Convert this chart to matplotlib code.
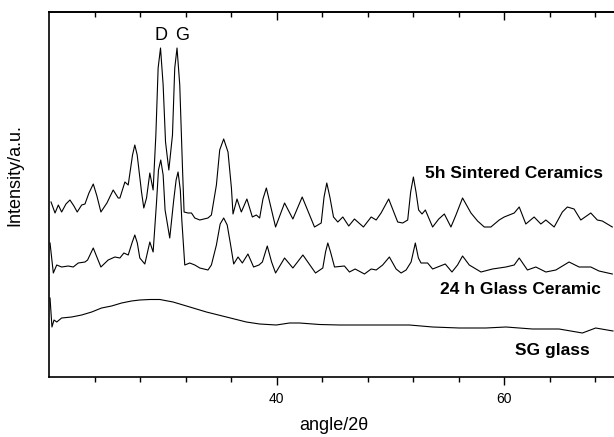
import numpy as np
import matplotlib
matplotlib.use("Agg")
import matplotlib.pyplot as plt
from matplotlib.ticker import FixedLocator

plt.rcParams['font.family'] = ['Liberation Sans', 'DejaVu Sans']

# 5h sintered ceramics (angle 2theta, intensity a.u.)
sint_x = [20.18, 20.53, 20.82, 21.11, 21.49, 21.84, 22.19, 22.48, 22.87, 23.16,
          23.51, 23.89, 24.21, 24.56, 25.09, 25.64, 26.08, 26.23, 26.67, 26.96,
          27.34, 27.54, 27.75, 28.13, 28.33, 28.57, 28.86, 29.15, 29.39, 29.59,
          29.80, 30.03, 30.24, 30.53, 30.85, 31.05, 31.25, 31.49, 31.73, 31.87,
          32.22, 32.52, 32.81, 33.25, 33.97, 34.27, 34.71, 35.00, 35.35, 35.73,
          36.03, 36.17, 36.52, 36.90, 37.39, 37.87, 38.22, 38.51, 38.80, 39.10,
          39.39, 39.91, 40.70, 41.43, 42.25, 43.33, 43.92, 44.17, 44.41, 44.68,
          45.00, 45.38, 45.82, 46.34, 46.84, 47.63, 48.31, 48.75, 49.18, 49.85,
          50.64, 51.08, 51.52, 51.78, 52.02, 52.25, 52.48, 52.78, 53.07, 53.71,
          54.25, 54.74, 55.32, 55.76, 56.34, 57.08, 57.66, 58.25, 58.83, 59.56,
          60.00, 60.88, 61.32, 61.90, 62.63, 63.22, 63.66, 64.39, 65.11, 65.55,
          66.14, 66.73, 67.61, 68.18, 68.62, 69.50]
sint_y = [175, 164, 172, 165, 173, 177, 171, 165, 172, 173,
          184, 193, 181, 165, 174, 187, 179, 179, 195, 192,
          222, 232, 222, 185, 169, 179, 204, 187, 242, 309,
          329, 292, 235, 207, 242, 309, 329, 292, 209, 165,
          164, 164, 159, 157, 159, 162, 192, 227, 238, 225,
          189, 163, 178, 165, 178, 160, 162, 159, 178, 189,
          175, 150, 174, 158, 180, 150, 154, 180, 194, 180,
          160, 155, 160, 151, 158, 150, 160, 157, 164, 178,
          155, 154, 157, 185, 200, 185, 167, 163, 167, 150,
          158, 163, 150, 162, 179, 164, 156, 150, 150, 157,
          160, 164, 170, 153, 160, 153, 157, 150, 165, 170,
          168, 157, 164, 157, 156, 150]

# 24 h glass ceramic
gc_x = [20.09, 20.38, 20.68, 21.11, 21.69, 22.13, 22.57, 23.16, 23.39, 23.64,
        23.89, 24.17, 24.56, 25.20, 25.79, 26.23, 26.58, 26.96, 27.32, 27.54,
        27.76, 27.98, 28.42, 28.86, 29.15, 29.45, 29.62, 29.82, 30.03, 30.20,
        30.61, 30.96, 31.17, 31.34, 31.54, 31.67, 31.93, 32.37, 32.81, 33.25,
        33.97, 34.27, 34.71, 35.04, 35.35, 35.66, 35.96, 36.23, 36.61, 36.99,
        37.48, 37.98, 38.45, 38.75, 39.18, 39.56, 39.91, 40.70, 41.43, 42.31,
        43.42, 44.06, 44.30, 44.50, 44.74, 45.09, 45.96, 46.40, 46.90, 47.72,
        48.31, 48.75, 49.32, 49.91, 50.50, 50.94, 51.38, 51.82, 52.19, 52.46,
        52.69, 53.27, 53.71, 54.82, 55.41, 55.90, 56.34, 56.93, 57.96, 58.97,
        60.15, 60.88, 61.32, 62.04, 62.78, 63.66, 64.54, 65.70, 66.58, 67.61,
        68.33, 69.50]
gc_y = [134, 104, 112, 110, 111, 110, 114, 115, 117, 123,
        129, 121, 110, 117, 120, 119, 124, 122, 135, 142,
        134, 119, 113, 135, 125, 175, 207, 217, 202, 167,
        139, 177, 197, 205, 187, 157, 112, 114, 112, 109,
        107, 112, 132, 153, 159, 152, 132, 113, 120, 114,
        123, 110, 112, 115, 131, 115, 104, 119, 109, 122,
        104, 109, 125, 134, 125, 110, 111, 105, 108, 103,
        108, 107, 112, 120, 108, 104, 107, 115, 134, 119,
        114, 114, 108, 113, 105, 112, 121, 112, 105, 108,
        110, 112, 119, 107, 110, 105, 107, 115, 110, 110,
        106, 103]

# SG glass
sg_x = [20.09, 20.26, 20.44, 20.68, 21.11, 21.99, 22.87, 23.75, 24.62, 25.50,
        26.38, 27.25, 27.98, 28.86, 29.74, 30.90, 32.08, 33.83, 35.59, 37.34,
        38.51, 39.97, 41.14, 42.02, 43.77, 45.53, 47.87, 50.20, 51.67, 53.71,
        56.05, 58.39, 60.15, 62.48, 64.82, 66.87, 68.04, 69.56]
sg_y = [79, 50, 57, 55, 59, 60, 62, 65, 69, 71,
        74, 76, 77, 77.5, 77.5, 75, 71, 65, 60, 55,
        53, 52, 54, 54, 52.5, 52, 52, 52, 52, 50,
        49, 49, 50, 48, 48, 44, 49, 46]

W, H = 614, 437
fig = plt.figure(figsize=(W / 100, H / 100), dpi=100)
ax = fig.add_axes([49 / W, 1 - 377 / H, 569 / W, 365 / H])

for xs, ys in [(sint_x, sint_y), (gc_x, gc_y), (sg_x, sg_y)]:
    ax.plot(xs, ys, color='black', lw=0.8, solid_joinstyle='round')

ax.set_xlim(20, 70)
ax.set_ylim(0, 365)
ax.set_yticks([])
ax.spines['right'].set_visible(False)
for s in ['left', 'bottom', 'top']:
    ax.spines[s].set_linewidth(1.2)

major = [40, 60]
minor = [24, 28, 32, 36, 44, 48, 52, 56, 64, 68]
ax.xaxis.set_major_locator(FixedLocator(major))
ax.xaxis.set_minor_locator(FixedLocator(minor))
ax.tick_params(axis='x', which='both', direction='out', top=False, labelsize=10, width=1.0, pad=5)
ax.tick_params(axis='x', which='major', length=6)
ax.tick_params(axis='x', which='minor', length=3.5)

top = ax.secondary_xaxis('top')
top.xaxis.set_major_locator(FixedLocator(major))
top.xaxis.set_minor_locator(FixedLocator(minor))
top.tick_params(axis='x', which='both', direction='in', labeltop=False, width=1.0)
top.tick_params(axis='x', which='major', length=6)
top.tick_params(axis='x', which='minor', length=3.5)
top.spines['top'].set_linewidth(1.2)

ax.text(68.68, 203, '5h Sintered Ceramics', ha='right', va='center', fontsize=12.5, fontweight='bold')
ax.text(68.5, 88, '24 h Glass Ceramic', ha='right', va='center', fontsize=12.5, fontweight='bold')
ax.text(67.54, 27, 'SG glass', ha='right', va='center', fontsize=12.5, fontweight='bold')
ax.text(29.82, 337, 'D', ha='center', va='baseline', fontsize=13)
ax.text(31.67, 337, 'G', ha='center', va='baseline', fontsize=13)

fig.text(15 / W, 1 - 175 / H, 'Intensity/a.u.', rotation=90, ha='center', va='center', fontsize=13)
fig.text(334 / W, 1 - 425 / H, 'angle/2\u03b8', ha='center', va='center', fontsize=13)

fig.savefig('out.png', dpi=100)
